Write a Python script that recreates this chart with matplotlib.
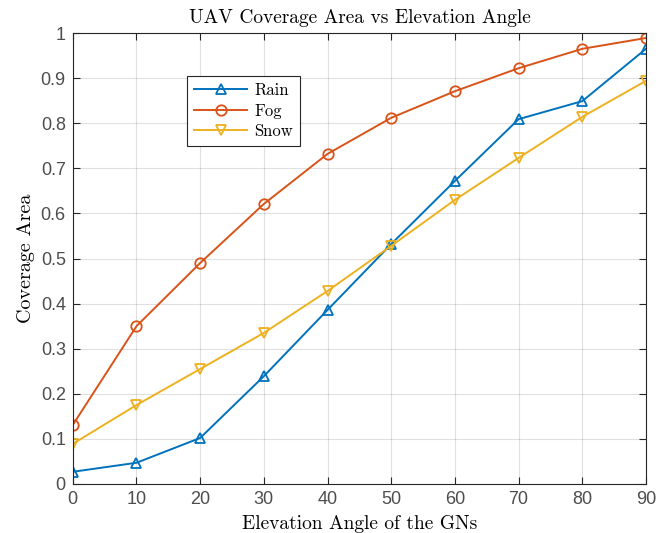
import matplotlib.pyplot as plt
import numpy as np

angles = [0, 10, 20, 30, 40, 50, 60, 70, 80, 90]
rain = [0.027, 0.047, 0.102, 0.239, 0.386, 0.532, 0.672, 0.809, 0.849, 0.965]
fog = [0.131, 0.350, 0.490, 0.621, 0.732, 0.812, 0.871, 0.922, 0.965, 0.989]
snow = [0.089, 0.175, 0.255, 0.335, 0.428, 0.528, 0.630, 0.723, 0.814, 0.894]

serif = ["cmr10", "DejaVu Serif"]

fig = plt.figure(figsize=(6.68, 5.33), dpi=100)
ax = fig.add_axes([0.109, 0.092, 0.858, 0.846])

ax.plot(angles, rain, color="#0072BD", marker="^", markersize=7.5, mfc="none", mew=1.3, lw=1.4, label="Rain")
ax.plot(angles, fog, color="#D95319", marker="o", markersize=7.5, mfc="none", mew=1.3, lw=1.4, label="Fog")
ax.plot(angles, snow, color="#EDB120", marker="v", markersize=7.5, mfc="none", mew=1.3, lw=1.4, label="Snow")

ax.set_xlim(0, 90)
ax.set_ylim(0, 1)
ax.set_xticks(np.arange(0, 91, 10))
ax.set_yticks(np.arange(0, 1.01, 0.1))
ax.set_yticklabels(["0", "0.1", "0.2", "0.3", "0.4", "0.5", "0.6", "0.7", "0.8", "0.9", "1"])
ax.grid(True, color="#000000", alpha=0.12, lw=0.8)
ax.tick_params(direction="in", top=True, right=True, labelsize=13, colors="#262626",
               labelcolor="#4d4d4d", length=5, pad=5)
for lab in ax.get_xticklabels() + ax.get_yticklabels():
    lab.set_fontfamily("Liberation Sans")
for s in ax.spines.values():
    s.set_color("#262626")
    s.set_linewidth(0.8)

ax.set_title("UAV Coverage Area vs Elevation Angle", family=serif, fontsize=14, pad=7)
ax.set_xlabel("Elevation Angle of the GNs", family=serif, fontsize=14, labelpad=5)
ax.set_ylabel("Coverage Area", family=serif, fontsize=14.5, labelpad=4)

leg = ax.legend(loc="upper left", bbox_to_anchor=(0.2, 0.905), borderaxespad=0,
                prop={"family": serif, "size": 12},
                fancybox=False, edgecolor="#262626", framealpha=1, handlelength=3.2, borderpad=0.4,
                labelspacing=0.32, handletextpad=0.4)
leg.get_frame().set_linewidth(0.8)

fig.savefig("out.png", dpi=100)
